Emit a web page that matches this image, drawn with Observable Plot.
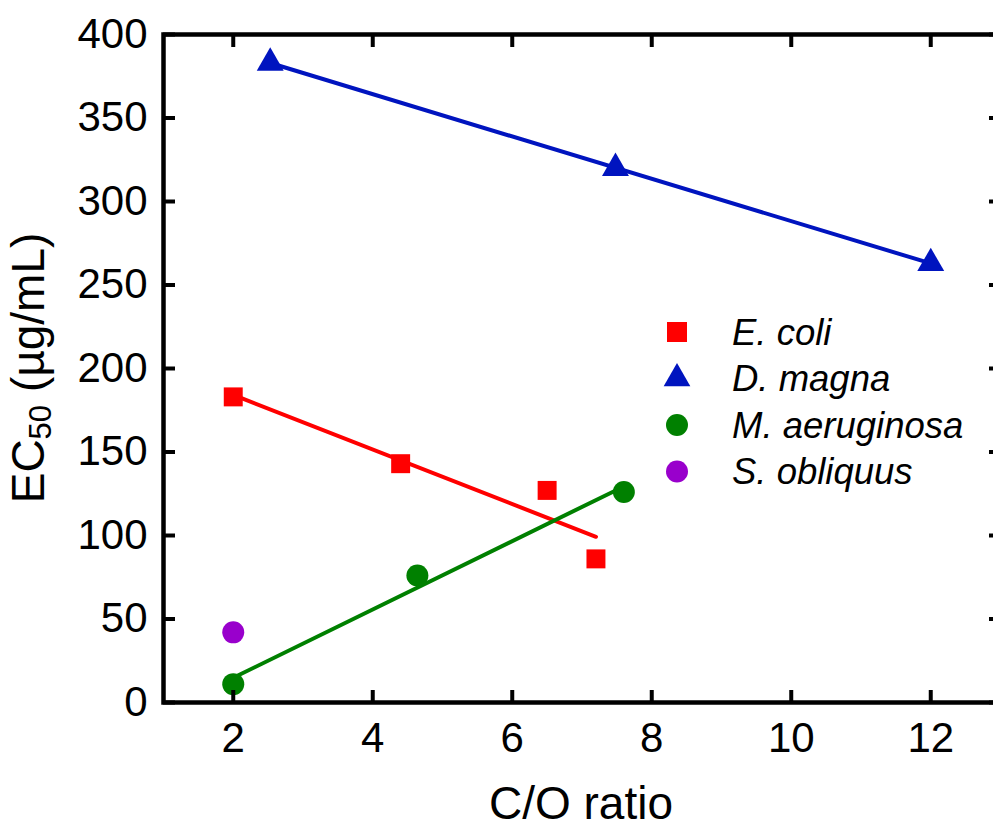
<!DOCTYPE html>
<html>
<head>
<meta charset="utf-8">
<script src="https://cdn.jsdelivr.net/npm/d3@7"></script>
<script src="https://cdn.jsdelivr.net/npm/@observablehq/plot@0.6"></script>
<style>
  html, body { margin: 0; padding: 0; background: white; overflow: hidden; }
  #chart { position: relative; width: 993px; height: 828px; }
</style>
</head>
<body>
<div id="chart"></div>
<script>
// ---- data ----
const species = ["E. coli", "D. magna", "M. aeruginosa", "S. obliquus"];
const colors = ["#ff0000", "#0014bf", "#008000", "#9900cc"];
const symbols = ["square", "triangle", "circle", "circle"];

const ecoliX = [2, 4.4, 6.5, 7.2];
const ecoliY = [183, 143, 127, 86];
const dmagnaX = [2.53, 7.48, 12];
const dmagnaY = [383, 320, 263];
const maerugX = [2, 4.64, 7.6];
const maerugY = [11, 76, 126];
const sobliqX = [2];
const sobliqY = [42];

const xTicks = [2, 4, 6, 8, 10, 12];
const yTicks = [0, 50, 100, 150, 200, 250, 300, 350, 400];
const xTitle = "C/O ratio";

// ---- build tables ----
const series = [
  {name: species[0], xs: ecoliX, ys: ecoliY, fit: true},
  {name: species[1], xs: dmagnaX, ys: dmagnaY, fit: true},
  {name: species[2], xs: maerugX, ys: maerugY, fit: true},
  {name: species[3], xs: sobliqX, ys: sobliqY, fit: false}
];
const rows = series.flatMap(s => s.xs.map((x, i) => ({species: s.name, x, y: s.ys[i]})));
const colorOf = Object.fromEntries(species.map((s, i) => [s, colors[i]]));
const symbolOf = Object.fromEntries(species.map((s, i) => [s, symbols[i]]));
const sizeOf = {square: 10.7, triangle: 10, circle: 11};

const fitMarks = series.filter(s => s.fit).map(s =>
  Plot.linearRegressionY(rows.filter(d => d.species === s.name), {
    x: "x", y: "y", ci: 0, stroke: colorOf[s.name], strokeWidth: 4, strokeLinecap: "round"
  })
);
const dotMarks = species.map(name =>
  Plot.dot(rows.filter(d => d.species === name), {
    x: "x", y: "y", symbol: () => symbolOf[name], r: sizeOf[symbolOf[name]],
    fill: colorOf[name], stroke: "none"
  })
);

const plot = Plot.plot({
  width: 993,
  height: 828,
  marginLeft: 163,
  marginRight: -7,
  marginTop: 34,
  marginBottom: 126,
  style: {fontFamily: "'Liberation Sans', Arial, sans-serif", fontSize: "42px", color: "black", background: "white"},
  x: {domain: [1, 13], label: null},
  y: {domain: [0, 400], label: null},
  symbol: {type: "identity"},
  marks: [
    ...fitMarks,
    ...dotMarks,
    Plot.axisX({ticks: xTicks, anchor: "bottom", tickSize: -12, tickPadding: 32, strokeWidth: 4, fontSize: 42, label: null}),
    Plot.axisX({ticks: xTicks, anchor: "top", tickSize: -12, strokeWidth: 4, tickFormat: () => "", label: null}),
    Plot.axisY({ticks: yTicks, anchor: "left", tickSize: -12, tickPadding: 28, strokeWidth: 4, fontSize: 42, label: null}),
    Plot.axisY({ticks: yTicks, anchor: "right", tickSize: -12, strokeWidth: 4, tickFormat: () => "", label: null}),
    Plot.frame({stroke: "black", strokeWidth: 4.5})
  ]
});

document.getElementById("chart").appendChild(plot);

// ---- titles ----
const svg = d3.select(plot);
const font = "'Liberation Sans', Arial, sans-serif";

svg.append("text")
  .attr("x", 581).attr("y", 819)
  .attr("text-anchor", "middle")
  .attr("font-family", font).attr("font-size", 46).attr("fill", "black")
  .text(xTitle);

const yt = svg.append("text")
  .attr("transform", "translate(44,368) rotate(-90)")
  .attr("text-anchor", "middle")
  .attr("font-family", font).attr("font-size", 46).attr("fill", "black");
yt.append("tspan").text("EC");
yt.append("tspan").attr("font-size", 31).attr("dy", 7).text("50");
yt.append("tspan").attr("dy", -7).text(" (\u00b5g/mL)");

// ---- legend ----
const d3sym = {square: d3.symbolSquare, triangle: d3.symbolTriangle, circle: d3.symbolCircle};
const d3size = {square: 400, triangle: 308, circle: 380};
const lg = svg.append("g").attr("text-anchor", "start");
species.forEach((name, i) => {
  const cy = 332 + i * 46.5;
  lg.append("path")
    .attr("transform", `translate(677,${cy})`)
    .attr("d", d3.symbol(d3sym[symbols[i]], d3size[symbols[i]])())
    .attr("fill", colors[i]);
  lg.append("text")
    .attr("x", 732).attr("y", cy)
    .attr("dy", "0.35em")
    .attr("text-anchor", "start")
    .attr("font-family", font).attr("font-size", 36.5).attr("font-style", "italic")
    .attr("fill", "black")
    .text(name);
});
</script>
</body>
</html>
